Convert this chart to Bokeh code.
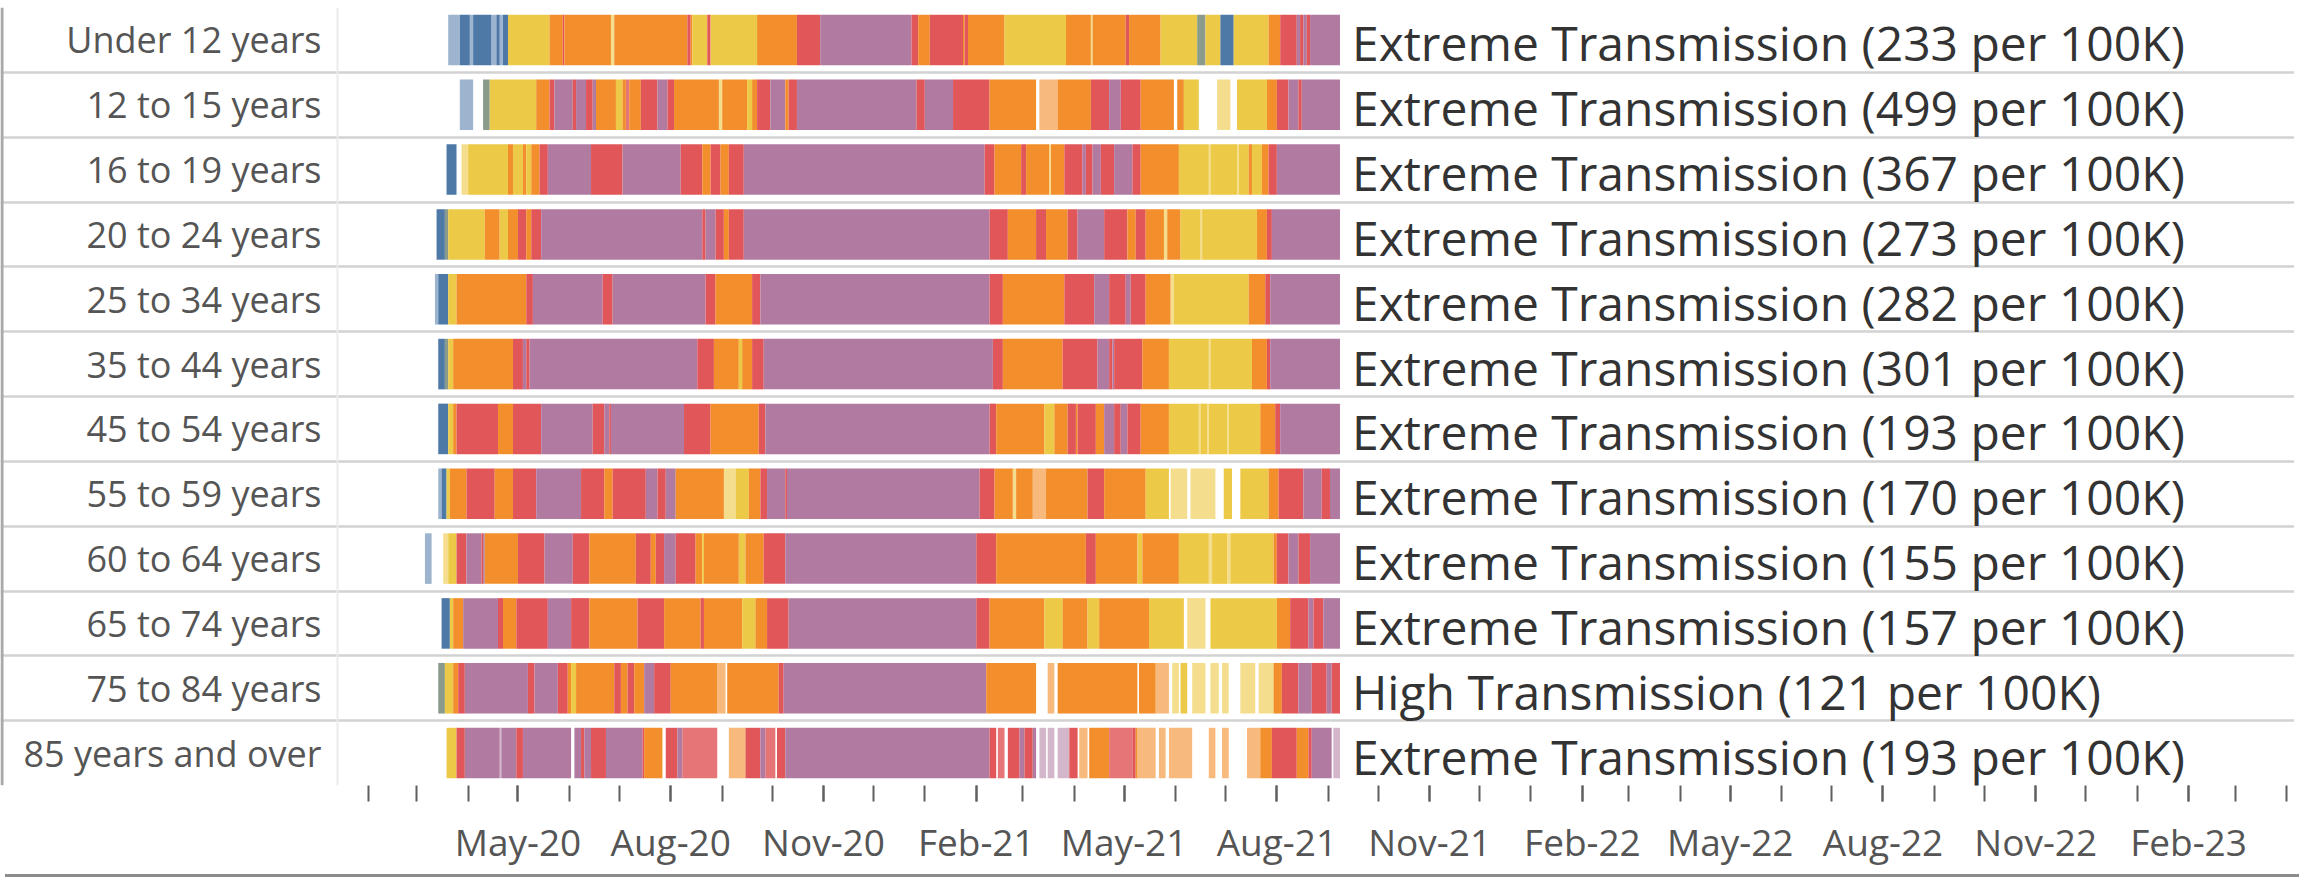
import pandas as pd
from bokeh.plotting import figure
from bokeh.models import ColumnDataSource, Range1d, FixedTicker, DatetimeTickFormatter, Span, Div
from bokeh.layouts import column
from bokeh.core.properties import value
from bokeh.embed import file_html
from bokeh.resources import INLINE

# ---------------- data ----------------
# each strip: (day offset from BASE_DATE where a run starts, transmission level code)
# codes: B low, Y moderate, O substantial, R high, P extreme; lower case = faded mark,
# G = low/moderate blend, _ = no data
BASE_DATE = "2020-02-01"
END_DAY = 585

AGE_GROUPS = ["Under 12 years", "12 to 15 years", "16 to 19 years", "20 to 24 years",
              "25 to 34 years", "35 to 44 years", "45 to 54 years", "55 to 59 years",
              "60 to 64 years", "65 to 74 years", "75 to 84 years", "85 years and over"]

STATUS = ["Extreme Transmission (233 per 100K)", "Extreme Transmission (499 per 100K)",
          "Extreme Transmission (367 per 100K)", "Extreme Transmission (273 per 100K)",
          "Extreme Transmission (282 per 100K)", "Extreme Transmission (301 per 100K)",
          "Extreme Transmission (193 per 100K)", "Extreme Transmission (170 per 100K)",
          "Extreme Transmission (155 per 100K)", "Extreme Transmission (157 per 100K)",
          "High Transmission (121 per 100K)", "Extreme Transmission (193 per 100K)"]

UNDER_12 = [(48,'b'),(55,'B'),(61,'b'),(63,'B'),(74,'b'),(77,'B'),(79,'b'),(81,'B'),(84,'Y'),
            (109,'O'),(117,'R'),(118,'O'),(146,'y'),(148,'O'),(192,'R'),(194,'O'),(195,'Y'),
            (204,'R'),(206,'Y'),(234,'O'),(258,'R'),(272,'P'),(327,'R'),(331,'O'),(338,'R'),
            (358,'O'),(359,'R'),(361,'O'),(383,'Y'),(420,'O'),(435,'y'),(436,'O'),(456,'R'),
            (458,'O'),(477,'Y'),(499,'G'),(504,'Y'),(513,'B'),(521,'Y'),(542,'O'),(549,'R'),
            (559,'P'),(561,'R'),(563,'P'),(565,'R'),(567,'P')]
AGE_12_15 = [(55,'b'),(63,'_'),(69,'G'),(73,'Y'),(101,'O'),(109,'R'),(112,'P'),(123,'R'),
             (125,'P'),(131,'R'),(135,'P'),(137,'O'),(149,'Y'),(153,'O'),(155,'r'),(157,'O'),
             (164,'R'),(174,'P'),(180,'R'),(184,'O'),(211,'y'),(213,'O'),(228,'Y'),(231,'O'),
             (234,'R'),(242,'P'),(251,'O'),(253,'R'),(258,'P'),(330,'R'),(335,'P'),(352,'R'),
             (374,'O'),(402,'_'),(404,'o'),(415,'O'),(435,'R'),(446,'P'),(453,'R'),(465,'O'),
             (485,'_'),(487,'O'),(491,'Y'),(500,'_'),(511,'y'),(519,'_'),(523,'Y'),(541,'O'),
             (547,'R'),(554,'P'),(560,'R'),(562,'P')]
AGE_16_19 = [(47,'B'),(53,'_'),(56,'y'),(60,'Y'),(84,'O'),(87,'Y'),(93,'O'),(95,'Y'),(98,'O'),
             (103,'R'),(108,'P'),(134,'R'),(153,'P'),(188,'R'),(201,'O'),(206,'R'),(212,'O'),
             (217,'R'),(226,'P'),(371,'R'),(377,'O'),(393,'R'),(396,'O'),(410,'y'),(411,'O'),
             (419,'R'),(430,'P'),(432,'R'),(436,'P'),(441,'R'),(449,'P'),(460,'R'),(465,'O'),
             (488,'Y'),(506,'y'),(507,'Y'),(523,'y'),(524,'Y'),(530,'O'),(532,'Y'),(538,'O'),
             (542,'R'),(547,'P')]
AGE_20_24 = [(41,'B'),(46,'G'),(48,'Y'),(70,'O'),(79,'Y'),(84,'O'),(90,'R'),(95,'O'),(98,'R'),
             (104,'P'),(201,'R'),(203,'P'),(209,'R'),(214,'O'),(217,'R'),(226,'P'),(374,'R'),
             (385,'O'),(402,'R'),(408,'O'),(421,'R'),(427,'P'),(443,'R'),(457,'O'),(462,'R'),
             (468,'O'),(479,'y'),(481,'O'),(489,'Y'),(501,'y'),(502,'Y'),(535,'O'),(541,'R'),
             (544,'P')]
AGE_25_34 = [(40,'b'),(42,'B'),(48,'Y'),(53,'O'),(95,'R'),(99,'P'),(141,'R'),(147,'P'),
             (203,'R'),(209,'O'),(231,'R'),(236,'P'),(374,'R'),(382,'O'),(419,'R'),(437,'P'),
             (446,'R'),(456,'P'),(459,'R'),(468,'O'),(483,'y'),(485,'Y'),(530,'O'),(540,'R'),
             (543,'P')]
AGE_35_44 = [(42,'B'),(46,'G'),(48,'Y'),(51,'O'),(87,'R'),(93,'P'),(95,'R'),(97,'P'),
             (198,'R'),(208,'O'),(223,'Y'),(225,'O'),(231,'R'),(238,'P'),(376,'R'),(382,'O'),
             (418,'R'),(439,'P'),(446,'R'),(448,'P'),(449,'R'),(466,'O'),(482,'Y'),(506,'y'),
             (507,'Y'),(532,'O'),(541,'R'),(543,'P')]
AGE_45_54 = [(42,'B'),(48,'Y'),(51,'O'),(53,'R'),(78,'O'),(87,'R'),(104,'P'),(135,'R'),
             (142,'P'),(145,'R'),(146,'P'),(190,'R'),(206,'O'),(235,'R'),(239,'P'),(374,'R'),
             (378,'O'),(407,'Y'),(413,'O'),(421,'R'),(426,'O'),(427,'R'),(438,'O'),(443,'P'),
             (449,'R'),(453,'P'),(457,'R'),(465,'O'),(482,'Y'),(500,'y'),(501,'Y'),(505,'y'),
             (506,'Y'),(517,'y'),(518,'Y'),(537,'O'),(546,'R'),(549,'P')]
AGE_55_59 = [(42,'b'),(44,'B'),(47,'Y'),(49,'O'),(59,'R'),(76,'O'),(87,'R'),(101,'P'),
             (128,'R'),(142,'O'),(147,'R'),(167,'P'),(174,'R'),(179,'P'),(185,'O'),(214,'y'),
             (221,'Y'),(229,'O'),(236,'R'),(240,'P'),(251,'R'),(252,'P'),(368,'R'),(377,'O'),
             (388,'y'),(390,'O'),(400,'o'),(408,'O'),(433,'R'),(443,'O'),(468,'Y'),(482,'_'),
             (483,'y'),(493,'_'),(495,'y'),(510,'_'),(515,'Y'),(520,'_'),(525,'Y'),(542,'O'),
             (548,'R'),(563,'P'),(574,'R'),(579,'P')]
AGE_60_64 = [(34,'b'),(38,'_'),(45,'y'),(48,'Y'),(53,'R'),(59,'P'),(68,'R'),(69,'P'),(70,'O'),
             (90,'R'),(106,'P'),(123,'R'),(133,'O'),(161,'R'),(170,'O'),(173,'R'),(178,'P'),
             (185,'R'),(197,'O'),(201,'Y'),(202,'O'),(223,'Y'),(227,'O'),(238,'R'),(251,'P'),
             (366,'R'),(378,'O'),(432,'R'),(438,'O'),(463,'Y'),(466,'O'),(488,'Y'),(506,'y'),
             (508,'Y'),(517,'y'),(519,'Y'),(545,'O'),(547,'R'),(554,'P'),(560,'R'),(567,'P')]
AGE_65_74 = [(44,'B'),(49,'Y'),(51,'O'),(57,'P'),(78,'R'),(81,'O'),(89,'R'),(108,'P'),
             (122,'R'),(133,'O'),(162,'R'),(178,'O'),(200,'R'),(202,'O'),(225,'Y'),(233,'O'),
             (240,'R'),(253,'P'),(366,'R'),(374,'O'),(407,'Y'),(418,'O'),(433,'Y'),(440,'O'),
             (470,'Y'),(491,'_'),(493,'y'),(504,'_'),(507,'Y'),(547,'O'),(555,'R'),(566,'P'),
             (569,'R'),(575,'P')]
AGE_75_84 = [(42,'G'),(46,'Y'),(51,'O'),(54,'R'),(58,'P'),(96,'R'),(100,'P'),(114,'R'),
             (120,'O'),(122,'Y'),(125,'O'),(148,'R'),(152,'O'),(156,'R'),(160,'O'),(166,'P'),
             (172,'R'),(182,'O'),(210,'o'),(215,'_'),(216,'O'),(247,'R'),(250,'P'),(372,'O'),
             (402,'_'),(409,'o'),(413,'_'),(415,'O'),(463,'_'),(464,'O'),(474,'o'),(482,'_'),
             (484,'y'),(488,'_'),(489,'Y'),(493,'_'),(496,'y'),(504,'_'),(507,'y'),(512,'_'),
             (514,'y'),(518,'_'),(525,'y'),(534,'_'),(536,'y'),(545,'O'),(550,'R'),(560,'P'),
             (568,'R'),(577,'P'),(580,'R')]
AGE_85_UP = [(47,'Y'),(53,'R'),(58,'P'),(79,'p'),(80,'P'),(89,'R'),(93,'P'),(122,'_'),
             (124,'P'),(128,'R'),(130,'P'),(134,'R'),(143,'P'),(165,'R'),(166,'O'),(177,'_'),
             (179,'R'),(186,'P'),(189,'r'),(210,'_'),(217,'o'),(227,'R'),(236,'P'),(239,'r'),
             (245,'_'),(246,'R'),(251,'P'),(374,'R'),(378,'_'),(379,'r'),(383,'_'),(385,'R'),
             (392,'P'),(395,'R'),(400,'P'),(402,'_'),(404,'p'),(408,'_'),(409,'p'),(413,'_'),
             (415,'p'),(422,'R'),(427,'_'),(428,'o'),(433,'_'),(434,'O'),(446,'r'),(460,'R'),
             (462,'O'),(463,'o'),(474,'_'),(476,'o'),(480,'_'),(482,'o'),(496,'_'),(506,'o'),
             (510,'_'),(514,'o'),(518,'_'),(529,'o'),(537,'O'),(544,'R'),(559,'O'),(566,'R'),
             (568,'P'),(580,'_'),(581,'p')]

STRIPS = [UNDER_12, AGE_12_15, AGE_16_19, AGE_20_24, AGE_25_34, AGE_35_44,
          AGE_45_54, AGE_55_59, AGE_60_64, AGE_65_74, AGE_75_84, AGE_85_UP]

# ---------------- styling ----------------
BASE_COLORS = {"B": "#4e79a7", "G": "#8a9b8c", "Y": "#edc948", "O": "#f28e2b",
               "R": "#e15759", "P": "#b07aa1"}
FADED_ALPHA = {"b": 0.56, "y": 0.62, "o": 0.62, "r": 0.82, "p": 0.55}

base = pd.Timestamp(BASE_DATE)

lefts, rights, tops, bottoms, colors, alphas = [], [], [], [], [], []
for i, strip in enumerate(STRIPS):
    for k, (d, code) in enumerate(strip):
        e = strip[k + 1][0] if k + 1 < len(strip) else END_DAY
        if code == "_":
            continue
        lefts.append(base + pd.Timedelta(days=d))
        rights.append(base + pd.Timedelta(days=e))
        tops.append(i + 0.11)
        bottoms.append(i + 0.89)
        colors.append(BASE_COLORS[code.upper()])
        alphas.append(FADED_ALPHA.get(code, 1.0))

bars = ColumnDataSource(dict(left=lefts, right=rights, top=tops, bottom=bottoms,
                             color=colors, alpha=alphas))

W, H = 2294, 869
x_start = base + pd.Timedelta(days=-221.6)
x_end = base + pd.Timedelta(days=1159.8)

p = figure(width=W, height=H, x_axis_type="datetime",
           x_range=Range1d(x_start, x_end), y_range=Range1d(12, 0),
           output_backend="svg", toolbar_location=None, y_axis_location=None,
           min_border_left=0, min_border_right=0, min_border_top=7, min_border_bottom=75)
p.background_fill_color = "white"
p.border_fill_color = "white"
p.outline_line_color = None

p.quad(left="left", right="right", top="top", bottom="bottom", source=bars,
       fill_color="color", fill_alpha="alpha", line_color=None)

# row separators
p.xgrid.visible = False
p.ygrid.ticker = FixedTicker(ticks=list(range(13)))
p.ygrid.grid_line_color = "#d2d2d2"
p.ygrid.grid_line_width = 2.5

# label column edge and left frame line
p.add_layout(Span(location=337, location_units="screen", dimension="height",
                  line_color="#ebebeb", line_width=2))
p.add_layout(Span(location=1.5, location_units="screen", dimension="height",
                  line_color="#a8a8a8", line_width=3))

# row labels
lab = ColumnDataSource(dict(x=[x_start] * len(AGE_GROUPS),
                            y=[i + 0.5 for i in range(len(AGE_GROUPS))],
                            text=AGE_GROUPS))
p.text(x="x", y="y", text="text", source=lab, x_offset=321,
       text_font=value("Open Sans"), text_font_size="36px", text_color="#555555",
       text_align="right", text_baseline="middle")

# status labels at strip ends
st = ColumnDataSource(dict(x=[base + pd.Timedelta(days=END_DAY)] * len(STATUS),
                           y=[i + 0.5 for i in range(len(STATUS))],
                           text=STATUS))
p.text(x="x", y="y", text="text", source=st, x_offset=12, y_offset=3,
       text_font=value("Open Sans"), text_font_size="48px", text_color="#333333",
       text_align="left", text_baseline="middle")

# date axis: monthly ticks, quarterly labels
months = pd.date_range("2020-02-01", "2023-04-01", freq="MS")
labeled = pd.date_range("2020-05-01", "2023-02-01", freq="3MS")
to_ms = lambda ts: [int(t.value // 10**6) for t in ts]
ax = p.xaxis[0]
ax.ticker = FixedTicker(ticks=to_ms(labeled), minor_ticks=to_ms(months))
fmt = "%b-%y"
ax.formatter = DatetimeTickFormatter(days=fmt, months=fmt, years=fmt)
ax.axis_line_color = None
ax.major_tick_line_color = "#5f5f5f"
ax.minor_tick_line_color = "#5f5f5f"
ax.major_tick_line_width = 2
ax.minor_tick_line_width = 2
ax.major_tick_in = 0
ax.minor_tick_in = 0
ax.major_tick_out = 16
ax.minor_tick_out = 16
ax.major_label_standoff = 14
ax.major_label_text_font = "Open Sans"
ax.major_label_text_font_size = "37px"
ax.major_label_text_color = "#555555"

bottom_rule = Div(width=W, height=3, styles={"background-color": "#8c8c8c"})
layout = column(p, bottom_rule, spacing=0)

open("out.html", "w").write(file_html(layout, INLINE))
